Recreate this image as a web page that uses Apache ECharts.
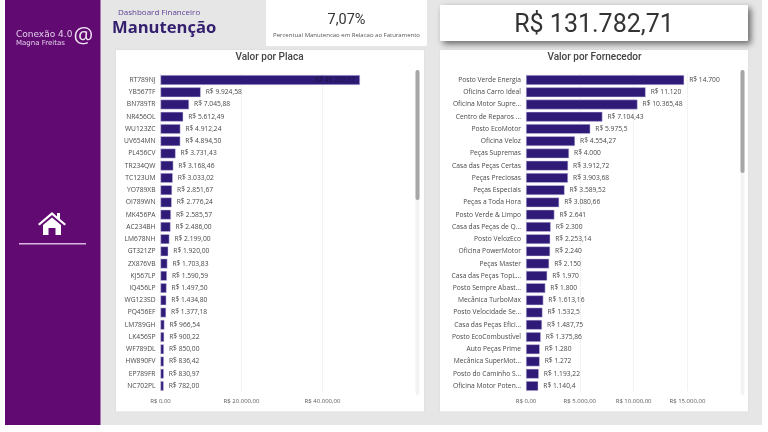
<!DOCTYPE html>
<html><head><meta charset="utf-8">
<style>html,body{margin:0;padding:0;background:#fff}#c{width:768px;height:432px;filter:blur(0.35px)}</style>
<script src="https://cdn.jsdelivr.net/npm/echarts@6/dist/echarts.min.js"></script>
</head><body><div id="c"></div>
<script>
const placas = ["RT789NJ","YB567TF","BN789TR","NR456OL","WU123ZC","UV654MN","PL456CV","TR234QW","TC123UM","YO789XB","OI789WN","MK456PA","AC234BH","LM678NH","GT321ZP","ZX876VB","KJ567LP","IQ456LP","WG123SD","PQ456EF","LM789GH","LK456SP","WF789DL","HW890FV","EP789FR","NC702PL"];
const valoresPlaca = [49252.97,9924.58,7045.88,5612.49,4912.24,4894.50,3731.43,3168.46,3033.02,2851.67,2776.24,2585.57,2486.00,2199.00,1920.00,1703.83,1590.59,1497.50,1434.80,1377.18,966.54,900.22,850.00,836.42,830.97,782.00];
const fornecedores = ["Posto Verde Energia","Oficina Carro Ideal","Oficina Motor Supre...","Centro de Reparos ...","Posto EcoMotor","Oficina Veloz","Peças Supremas","Casa das Peças Certas","Peças Preciosas","Peças Especiais","Peças a Toda Hora","Posto Verde & Limpo","Casa das Peças de Q...","Posto VelozEco","Oficina PowerMotor","Peças Master","Casa das Peças TopL...","Posto Sempre Abast...","Mecânica TurboMax","Posto Velocidade Se...","Casa das Peças Efici...","Posto EcoCombustível","Auto Peças Prime","Mecânica SuperMot...","Posto do Caminho S...","Oficina Motor Poten..."];
const valoresFornecedor = [14700,11120,10365.48,7104.43,5975.5,4554.27,4000,3912.72,3903.68,3589.52,3080.66,2641,2300,2253.14,2240,2150,1970,1800,1613.16,1532.5,1487.75,1375.86,1280,1272,1193.22,1140.4];

const FONT = '"Open Sans", sans-serif';
const TITLE_FONT = 'Roboto, sans-serif';
const BAR = '#2f1a78', BARLINE = '#cfc8e6', TXT = '#484848';
const brl2 = v => 'R$ ' + v.toLocaleString('pt-BR',{minimumFractionDigits:2,maximumFractionDigits:2});
const brlVar = v => 'R$ ' + v.toLocaleString('pt-BR',{minimumFractionDigits:0,maximumFractionDigits:2});

function panelAxes(idx, cats, max, interval){
  return {
    x:{gridIndex:idx,type:'value',min:0,max:max,interval:interval,
      axisLine:{show:false},axisTick:{show:false},
      splitLine:{show:true,showMaxLine:false,lineStyle:{color:'#e6e6e6',type:'dotted',width:1}},
      axisLabel:{color:'#5a5a5a',fontFamily:FONT,fontSize:6,margin:6.5,showMaxLabel:false,formatter:v=>brl2(v)}},
    y:{gridIndex:idx,type:'category',inverse:true,data:cats,
      axisLine:{show:false},axisTick:{show:false},
      axisLabel:{color:TXT,fontFamily:FONT,fontSize:6.7,margin:5,interval:0}}
  };
}
const a0 = panelAxes(0,placas,60000,20000), a1 = panelAxes(1,fornecedores,20000,5000);

function card(x,y,w,h,extra){return {type:'rect',shape:{x,y,width:w,height:h,r:1},style:Object.assign({fill:'#fff'},extra||{}),z:-10};}
function txt(x,y,text,font,fill,align,extra){return {type:'text',x,y,style:Object.assign({text,font,fill,align:align||'left',verticalAlign:'middle'},extra||{}),z:5};}

const graphic = [
  {type:'rect',shape:{x:5,y:0,width:763,height:425},style:{fill:'#e6e6e6'},z:-20},
  {type:'rect',shape:{x:762,y:0,width:6,height:432},style:{fill:'#fff'},z:-19},
  {type:'rect',shape:{x:5,y:0,width:95.5,height:425},style:{fill:'#600a72'},z:-15},
  card(266,0,161,46),
  card(440,5,308,36,{shadowBlur:6,shadowOffsetX:3,shadowOffsetY:3,shadowColor:'rgba(0,0,0,0.55)'}),
  card(116,50,308,361.5,{shadowBlur:2,shadowColor:'rgba(0,0,0,0.08)'}),
  card(440,50,308,361.5,{shadowBlur:2,shadowColor:'rgba(0,0,0,0.08)'}),
  {type:'rect',shape:{x:415.5,y:70,width:4,height:325,r:2},style:{fill:'#f3f3f3'},z:-5},
  {type:'rect',shape:{x:415.5,y:70,width:4,height:130,r:2},style:{fill:'#a6a6a6'},z:-4},
  {type:'rect',shape:{x:740.5,y:70,width:4,height:325,r:2},style:{fill:'#f3f3f3'},z:-5},
  {type:'rect',shape:{x:740.5,y:70,width:4,height:103,r:2},style:{fill:'#a6a6a6'},z:-4},
  txt(16,35,'Conexão 4.0','9px "DejaVu Sans", sans-serif','#e3cfe9'),
  txt(16,43.5,'Magna Freitas','7px "DejaVu Sans", sans-serif','#e3cfe9'),
  txt(73.5,37,'@','22px "Open Sans", sans-serif','#f1e6f4'),
  {type:'polygon',shape:{points:[[52,212],[38,224],[39.5,225.5],[52,215],[64.5,225.5],[66,224],[60,219],[60,213],[57,213],[57,216.5]]},style:{fill:'#fff'},z:5},
  {type:'polygon',shape:{points:[[43,225],[52,217.5],[61,225],[61,235],[55.5,235],[55.5,228],[48.5,228],[48.5,235],[43,235]]},style:{fill:'#fff'},z:5},
  {type:'rect',shape:{x:19,y:243,width:67,height:1.6},style:{fill:'#d9b7e0'},z:5},
  txt(118,12.5,'Dashboard Financeiro','8px "Open Sans", sans-serif','#5b3f96'),
  txt(112,28.5,'Manutenção','bold 16.6px "Open Sans", sans-serif','#35206f'),
  txt(346.5,20,'7,07%','14.5px '+TITLE_FONT,'#333','center'),
  txt(346.5,35,'Percentual Manutencao em Relacao ao Faturamento','6px "Open Sans", sans-serif','#555','center'),
  txt(594,26,'R$ 131.782,71','25px '+TITLE_FONT,'#333','center'),
  txt(269.5,57.5,'Valor por Placa','500 10px '+TITLE_FONT,'#444','center'),
  txt(594.5,57.5,'Valor por Fornecedor','500 10px '+TITLE_FONT,'#444','center')
];

const baseLabel = {show:true,position:'right',distance:5,color:TXT,fontFamily:FONT,fontSize:6.7};
const option = {
  animation:false,
  grid:[
    {left:160.5,top:73.9,width:243,height:318.2},
    {left:526,top:73.9,width:215.2,height:318.2}
  ],
  xAxis:[a0.x,a1.x],
  yAxis:[a0.y,a1.y],
  graphic:{elements:graphic},
  series:[
    {type:'bar',xAxisIndex:0,yAxisIndex:0,barCategoryGap:'20%',
     data:valoresPlaca.map((v,i)=> i===0 ? {value:v,label:{position:'insideRight',distance:5,color:'#1c1440'}} : v),
     itemStyle:{color:BAR,borderColor:BARLINE,borderWidth:0.5},
     label:Object.assign({},baseLabel,{formatter:p=>brl2(p.value)})},
    {type:'bar',xAxisIndex:1,yAxisIndex:1,barCategoryGap:'20%',
     data:valoresFornecedor,
     itemStyle:{color:BAR,borderColor:BARLINE,borderWidth:0.5},
     label:Object.assign({},baseLabel,{formatter:p=>brlVar(p.value)})}
  ]
};
echarts.init(document.getElementById('c'),null,{renderer:'canvas'}).setOption(option);
</script></body></html>
